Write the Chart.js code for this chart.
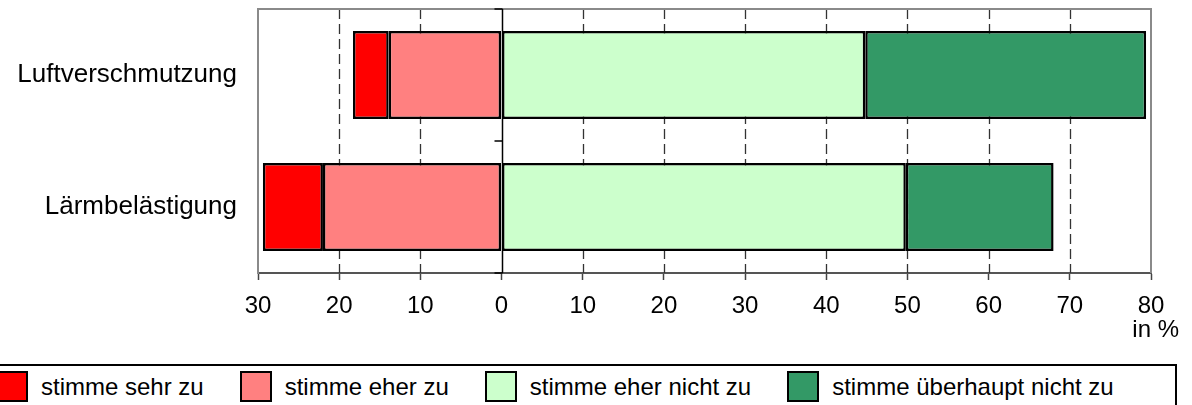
<!DOCTYPE html>
<html lang="de">
<head>
<meta charset="utf-8">
<title>Luftverschmutzung / Lärmbelästigung</title>
<script src="https://cdn.jsdelivr.net/npm/chart.js@4.4.1/dist/chart.umd.min.js"></script>
<style>
  html, body { margin:0; padding:0; background:#fff; }
  body { width:1192px; height:405px; position:relative; overflow:hidden; font-family:"Liberation Sans", Arial, sans-serif; }
  #wrap { position:absolute; left:0; top:0; width:1192px; height:340px; }
  #unit { position:absolute; right:13px; top:317px; font-size:24px; line-height:24px; color:#000; }
  #legend { position:absolute; left:-10px; top:364px; width:1187px; height:60px; border:2px solid #000; box-sizing:border-box;
            display:flex; align-items:flex-start; padding-left:4px; padding-top:5px; }
  .item { display:flex; align-items:center; margin-right:36px; }
  .sw { width:32px; height:31px; border:2px solid #000; box-sizing:border-box; margin-right:13px; }
  .lbl { font-size:24px; line-height:31px; color:#000; white-space:nowrap; }
</style>
</head>
<body>
<div id="wrap"><canvas id="chart"></canvas></div>
<div id="unit">in %</div>
<div id="legend"></div>
<script>
// ---------- data (Prozent) ----------
const categories = ['Luftverschmutzung', 'Lärmbelästigung'];
const sehrZu = [4.4, 7.4];              // stimme sehr zu
const eherZu = [13.9, 22.0];            // stimme eher zu
const eherNichtZu = [44.8, 49.8];       // stimme eher nicht zu
const ueberhauptNichtZu = [34.6, 18.2]; // stimme überhaupt nicht zu
const xTicks = [-30, -20, -10, 0, 10, 20, 30, 40, 50, 60, 70, 80];

const seriesNames = ['stimme sehr zu', 'stimme eher zu', 'stimme eher nicht zu', 'stimme überhaupt nicht zu'];
const seriesColors = ['#FF0000', '#FF8080', '#CCFFCC', '#339966'];

// Zustimmung nach links (negativ), Ablehnung nach rechts
const neg = a => a.map(v => -v);

// gestrichelte Gitterlinien, Null-Linie und Rahmen
const framePlugin = {
  id: 'frame',
  beforeDatasetsDraw(chart){
    const { ctx, chartArea: a, scales: { x, y } } = chart;
    ctx.save();
    ctx.lineWidth = 1.3;
    ctx.strokeStyle = '#333';
    ctx.setLineDash([10, 5]);
    xTicks.forEach(v => {
      if (v === 0 || v === xTicks[0] || v === xTicks[xTicks.length - 1]) return;
      const px = Math.round(x.getPixelForValue(v)) + 0.5;
      ctx.beginPath(); ctx.moveTo(px, a.top); ctx.lineTo(px, a.bottom); ctx.stroke();
    });
    ctx.setLineDash([]);
    // Rahmen oben + rechts
    ctx.strokeStyle = '#8a8a8a'; ctx.lineWidth = 2;
    ctx.beginPath();
    ctx.moveTo(a.left, a.top); ctx.lineTo(a.right, a.top); ctx.lineTo(a.right, a.bottom);
    ctx.stroke();
    // Null-Linie mit Kategorie-Strichen
    const x0 = Math.round(x.getPixelForValue(0)) + 0.5;
    ctx.strokeStyle = '#000'; ctx.lineWidth = 1.5;
    ctx.beginPath(); ctx.moveTo(x0, a.top); ctx.lineTo(x0, a.bottom); ctx.stroke();
    const mids = [a.top, (y.getPixelForTick(0) + y.getPixelForTick(1)) / 2, a.bottom];
    mids.forEach(py => {
      ctx.beginPath(); ctx.moveTo(x0 - 8, py); ctx.lineTo(x0, py); ctx.stroke();
    });
    ctx.restore();
  }
};

const ds = (label, data, color) => ({
  label, data, backgroundColor: color, borderColor: '#000', borderWidth: 2.5, borderSkipped: false
});

new Chart(document.getElementById('chart'), {
  type: 'bar',
  data: {
    labels: categories,
    datasets: [
      ds(seriesNames[1], neg(eherZu), seriesColors[1]),
      ds(seriesNames[0], neg(sehrZu), seriesColors[0]),
      ds(seriesNames[2], eherNichtZu, seriesColors[2]),
      ds(seriesNames[3], ueberhauptNichtZu, seriesColors[3])
    ]
  },
  options: {
    indexAxis: 'y',
    responsive: true,
    maintainAspectRatio: false,
    animation: false,
    layout: { padding: { top: 9, right: 41, left: 0, bottom: 0 } },
    datasets: { bar: { categoryPercentage: 0.665, barPercentage: 1 } },
    plugins: { legend: { display: false }, tooltip: { enabled: false } },
    scales: {
      x: {
        stacked: true, min: -30, max: 80,
        afterBuildTicks: s => { s.ticks = xTicks.map(v => ({ value: v })); },
        afterFit: s => { s.height = 67; },
        grid: { drawOnChartArea: false, drawTicks: true, tickLength: 7, tickColor: '#444', tickWidth: 1.5 },
        border: { display: true, color: '#555', width: 2 },
        ticks: {
          padding: 12, color: '#000', maxRotation: 0,
          font: { family: '"Liberation Sans", Arial, sans-serif', size: 24 },
          callback: v => String(Math.abs(v))
        }
      },
      y: {
        stacked: true,
        afterFit: s => { s.width = 258; s.paddingTop = 0; s.paddingBottom = 0; },
        grid: { display: false, drawTicks: false },
        border: { display: true, color: '#8a8a8a', width: 2 },
        ticks: { padding: 21, color: '#000', font: { family: '"Liberation Sans", Arial, sans-serif', size: 26 } }
      }
    }
  },
  plugins: [framePlugin]
});

// Legende
document.getElementById('legend').innerHTML = seriesNames.map((n, i) =>
  `<div class="item"><div class="sw" style="background:${seriesColors[i]}"></div><span class="lbl">${n}</span></div>`
).join('');
</script>
</body>
</html>
